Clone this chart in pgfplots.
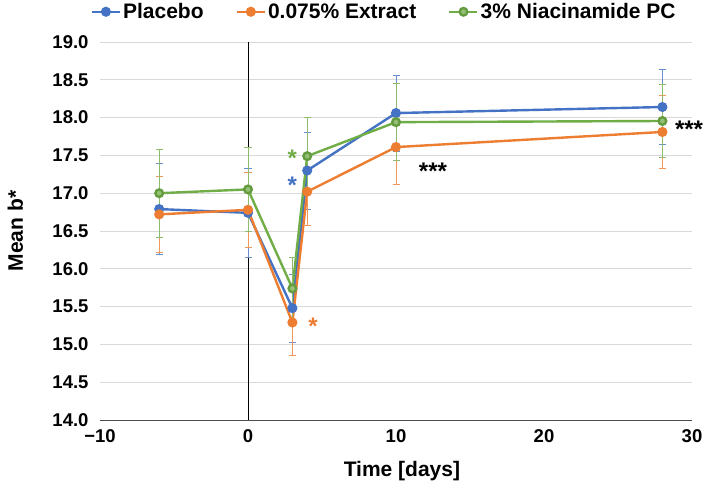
\documentclass[border=0pt]{standalone}
\usepackage{fontspec}
\setmainfont{Liberation Sans}
\usepackage{pgfplots}
\pgfplotsset{compat=1.18}
\definecolor{cBlue}{HTML}{4472C4}
\definecolor{cOrange}{HTML}{ED7D31}
\definecolor{cGreen}{HTML}{70AD47}
\definecolor{cGrid}{HTML}{D9D9D9}

\begin{document}
\begin{tikzpicture}
\path[use as bounding box] (-100bp,-71bp) rectangle (609bp,420bp);
\begin{axis}[
  at={(0,0)}, anchor=south west,
  scale only axis, width=592bp, height=378bp,
  xmin=-10, xmax=30, ymin=14, ymax=19,
  xtick={-10,0,10,20,30}, xticklabels={−10,0,10,20,30},
  ytick={14,14.5,15,15.5,16,16.5,17,17.5,18,18.5,19},
  yticklabel style={/pgf/number format/fixed, /pgf/number format/fixed zerofill,
    /pgf/number format/precision=1, xshift=-8bp},
  /pgf/number format/assume math mode=true,
  ticklabel style={font=\fontsize{18.5bp}{21bp}\selectfont\bfseries},
  xticklabel style={yshift=-6bp},
  major tick length=0pt,
  axis x line*=bottom, axis y line*=left,
  x axis line style={-, draw=black!70, line width=0.8bp},
  y axis line style={draw=none},
  ymajorgrids, grid style={cGrid, line width=0.9bp},
  xlabel={Time [days]}, ylabel={Mean b*},
  label style={font=\fontsize{21bp}{24bp}\selectfont\bfseries},
  xlabel style={at={(axis description cs:0.51,-0.135)}, anchor=center},
  ylabel style={at={(axis description cs:-0.143,0.5)}, anchor=center},
  legend style={at={(axis description cs:0.48,1.08)}, anchor=center, draw=none, fill=none,
    font=\fontsize{21bp}{24bp}\selectfont\bfseries,
    /tikz/every even column/.append style={column sep=30bp}},
  legend columns=3, legend cell align=left,
  legend image code/.code={\draw[mark repeat=2,mark phase=2,#1] plot coordinates {(0bp,0bp)(14bp,0bp)(28bp,0bp)};},
  clip=false,
  error bars/y dir=both, error bars/y explicit,
  error bars/error mark options={rotate=90, mark size=3.5bp, line width=0.7bp},
]
\addplot[black, line width=0.8bp, forget plot] coordinates {(0,14) (0,19)};

\addplot[cBlue, line width=2.4bp, mark=*, mark size=3.8bp,
  error bars/error bar style={cBlue!80, line width=0.7bp}] coordinates {
  (-6,16.79) +- (0,0.60)
  (0,16.74) +- (0,0.59)
  (3,15.48) +- (0,0.45)
  (4,17.30) +- (0,0.51)
  (10,18.06) +- (0,0.50)
  (28,18.14) +- (0,0.50)
};
\addlegendentry{Placebo}

\addplot[cOrange, line width=2.4bp, mark=*, mark size=3.8bp,
  error bars/error bar style={cOrange!80, line width=0.7bp}] coordinates {
  (-6,16.72) +- (0,0.50)
  (0,16.78) +- (0,0.50)
  (3,15.29) +- (0,0.44)
  (4,17.02) +- (0,0.45)
  (10,17.61) +- (0,0.49)
  (28,17.81) +- (0,0.48)
};
\addlegendentry{0.075\% Extract}

\addplot[cGreen, line width=2.4bp, mark=*, mark size=3.8bp,
  mark options={fill=cGreen!75!white, draw=cGreen!90!black},
  error bars/error bar style={cGreen!80, line width=0.7bp}] coordinates {
  (-6,17.00) +- (0,0.58)
  (0,17.05) +- (0,0.56)
  (3,15.74) +- (0,0.41)
  (4,17.49) +- (0,0.51)
  (10,17.94) +- (0,0.51)
  (28,17.955) +- (0,0.48)
};
\addlegendentry{3\% Niacinamide PC}

\node[text=cBlue, font=\fontsize{24bp}{26bp}\selectfont\bfseries, anchor=center] at (axis cs:3.0,17.10) {*};
\node[text=cGreen, font=\fontsize{24bp}{26bp}\selectfont\bfseries, anchor=center] at (axis cs:3.0,17.46) {*};
\node[text=cOrange, font=\fontsize{24bp}{26bp}\selectfont\bfseries, anchor=center] at (axis cs:4.4,15.24) {*};
\node[text=black, font=\fontsize{24bp}{26bp}\selectfont\bfseries, anchor=center] at (axis cs:12.5,17.29) {***};
\node[text=black, font=\fontsize{24bp}{26bp}\selectfont\bfseries, anchor=center] at (axis cs:29.8,17.84) {***};
\end{axis}
\end{tikzpicture}
\end{document}
